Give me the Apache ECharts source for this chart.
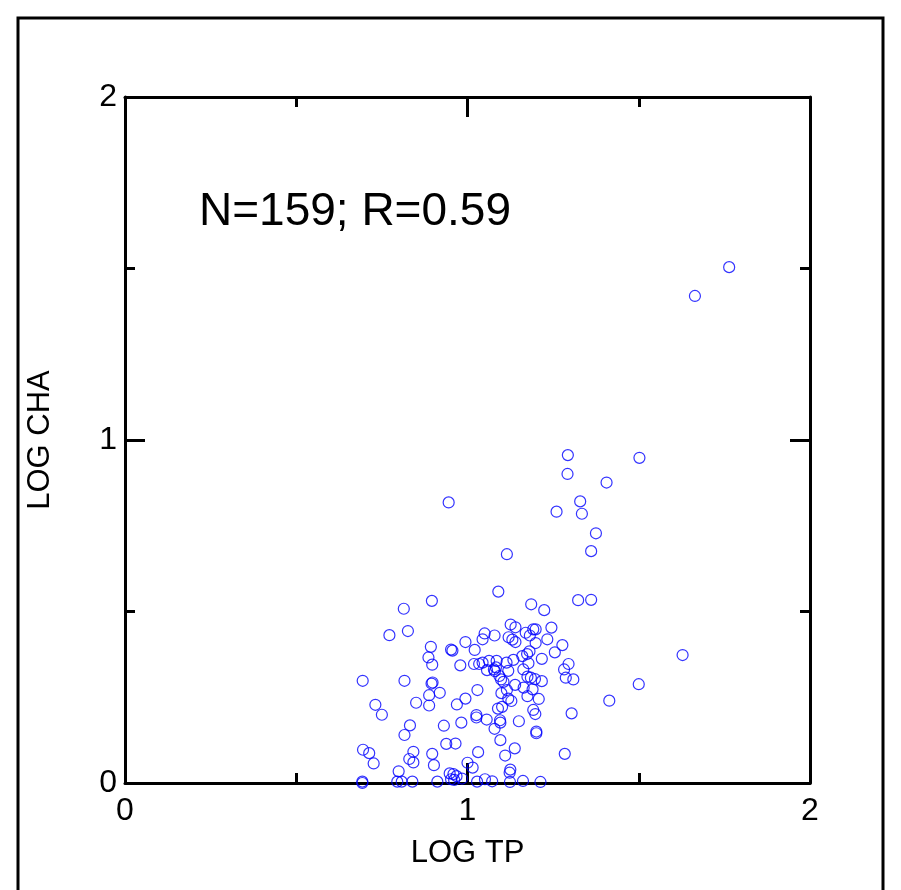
<!DOCTYPE html>
<html>
<head>
    <meta charset="utf-8">
    <title>LOG CHA vs LOG TP</title>
    <script src="https://cdn.jsdelivr.net/npm/echarts@6/dist/echarts.min.js"></script>
    <style>
        html, body { margin: 0; padding: 0; background: #fff; }
        #chart1 { width: 901px; height: 890px; }
    </style>
</head>
<body>
<div id="chart1"></div>
<script>
    // x values (LOG TP) and y values (LOG CHA)
    var logTP = [
        1.764, 1.664, 1.293, 1.292, 1.502, 1.406, 0.945, 1.329, 1.260, 1.334, 1.375, 1.361, 1.115, 1.628, 1.500,
        1.090, 0.896, 0.814, 1.186, 1.224, 1.323, 1.361, 0.772, 0.826, 0.994, 1.050, 1.044, 1.079, 1.126, 1.140,
        1.120, 1.131, 1.140, 1.170, 1.182, 1.192, 1.199, 1.199, 1.233, 1.245, 1.277, 0.893, 0.886, 0.897, 0.956,
        0.952, 1.021, 0.979, 1.019, 1.034, 1.044, 1.063, 1.085, 1.057, 1.077, 1.083, 1.114, 1.119, 1.134, 1.160,
        1.174, 1.181, 1.178, 1.163, 1.217, 1.255, 1.282, 1.295, 1.287, 1.309, 0.694, 0.816, 0.898, 0.895, 0.919,
        0.888, 0.888, 0.850, 0.731, 0.750, 0.994, 0.969, 1.029, 1.093, 1.098, 1.105, 1.099, 1.115, 1.139, 1.175,
        1.185, 1.197, 1.217, 1.164, 1.190, 1.175, 1.208, 1.119, 1.128, 1.101, 1.089, 1.026, 1.026, 1.056, 1.095,
        1.096, 1.079, 1.150, 1.192, 1.198, 1.201, 1.201, 1.414, 1.304, 0.982, 0.931, 0.832, 0.816, 1.096, 0.938,
        0.965, 1.031, 1.110, 1.138, 1.284, 0.695, 0.713, 0.726, 0.842, 0.830, 0.842, 0.897, 0.902, 0.799, 1.000,
        1.015, 1.125, 1.123, 0.948, 0.959, 0.968, 0.952, 0.961, 0.984, 0.693, 0.693, 0.795, 0.808, 0.839, 0.912,
        1.028, 1.051, 1.072, 1.124, 1.162, 1.213, 1.080
    ];
    var logCHA = [
        1.504, 1.420, 0.956, 0.901, 0.948, 0.876, 0.818, 0.821, 0.791, 0.785, 0.728, 0.676, 0.667, 0.373, 0.288,
        0.558, 0.531, 0.508, 0.521, 0.504, 0.533, 0.534, 0.431, 0.443, 0.411, 0.436, 0.419, 0.430, 0.462, 0.454,
        0.425, 0.418, 0.411, 0.438, 0.430, 0.448, 0.448, 0.408, 0.419, 0.453, 0.402, 0.397, 0.366, 0.345, 0.386,
        0.389, 0.388, 0.343, 0.347, 0.347, 0.351, 0.356, 0.356, 0.329, 0.331, 0.337, 0.351, 0.327, 0.359, 0.370,
        0.376, 0.384, 0.349, 0.331, 0.362, 0.381, 0.331, 0.347, 0.307, 0.302, 0.298, 0.298, 0.293, 0.290, 0.263,
        0.256, 0.226, 0.234, 0.228, 0.199, 0.246, 0.229, 0.271, 0.312, 0.302, 0.295, 0.262, 0.271, 0.286, 0.310,
        0.307, 0.303, 0.297, 0.278, 0.273, 0.253, 0.245, 0.246, 0.239, 0.222, 0.217, 0.198, 0.191, 0.185, 0.183,
        0.176, 0.158, 0.180, 0.213, 0.201, 0.150, 0.145, 0.240, 0.203, 0.176, 0.167, 0.168, 0.140, 0.125, 0.114,
        0.115, 0.090, 0.080, 0.101, 0.085, 0.097, 0.087, 0.057, 0.091, 0.070, 0.060, 0.085, 0.052, 0.034, 0.059,
        0.045, 0.039, 0.030, 0.028, 0.026, 0.020, 0.011, 0.009, 0.013, 0.004, 0.000, 0.004, 0.004, 0.004, 0.004,
        0.004, 0.011, 0.005, 0.003, 0.006, 0.003, 0.326
    ];
    var note = 'N=159; R=0.59';

    var points = logTP.map(function (x, i) { return [x, logCHA[i]]; });

    var labelFont = "'Liberation Sans Narrow', 'Liberation Sans', Arial, sans-serif";
    var black = '#000';

    function frameAxis(extra) {
        var a = {
            type: 'value',
            min: 0,
            max: 2,
            interval: 1,
            splitLine: { show: false },
            axisLine: { show: true, onZero: false, lineStyle: { color: black, width: 3 } },
            axisTick: { show: true, inside: true, length: 20, lineStyle: { color: black, width: 3 } },
            minorTick: { show: true, splitNumber: 2, length: 10, lineStyle: { color: black, width: 3 } },
            axisLabel: { show: false }
        };
        for (var k in extra) a[k] = extra[k];
        return a;
    }

    var myChart1 = echarts.init(document.getElementById('chart1'));
    myChart1.setOption({
        animation: false,
        backgroundColor: '#fff',
        grid: { left: 125, right: 91, top: 97, bottom: 107 },
        xAxis: [
            frameAxis({
                position: 'bottom',
                name: 'LOG TP',
                nameLocation: 'middle',
                nameGap: 55,
                nameTextStyle: { color: black, fontSize: 31, fontFamily: labelFont },
                axisLabel: { show: true, color: black, fontSize: 32, fontFamily: labelFont, margin: 12 }
            }),
            frameAxis({ position: 'top' })
        ],
        yAxis: [
            frameAxis({
                position: 'left',
                name: 'LOG CHA',
                nameLocation: 'middle',
                nameGap: 69,
                nameTextStyle: { color: black, fontSize: 31, fontFamily: labelFont },
                axisLabel: { show: true, color: black, fontSize: 32, fontFamily: labelFont, margin: 8 }
            }),
            frameAxis({ position: 'right' })
        ],
        graphic: [
            {
                type: 'rect',
                silent: true,
                shape: { x: 18, y: 18, width: 865, height: 900 },
                style: { fill: 'none', stroke: black, lineWidth: 3 }
            },
            {
                type: 'text',
                silent: true,
                x: 199,
                y: 212,
                style: {
                    text: note,
                    fill: black,
                    font: "46px 'Liberation Sans', Arial, sans-serif",
                    verticalAlign: 'middle'
                }
            }
        ],
        series: [{
            type: 'scatter',
            symbol: 'circle',
            symbolSize: 11,
            data: points,
            itemStyle: { color: 'rgba(0,0,0,0)', borderColor: '#0000ff', borderWidth: 1.2 }
        }]
    });
</script>
</body>
</html>
